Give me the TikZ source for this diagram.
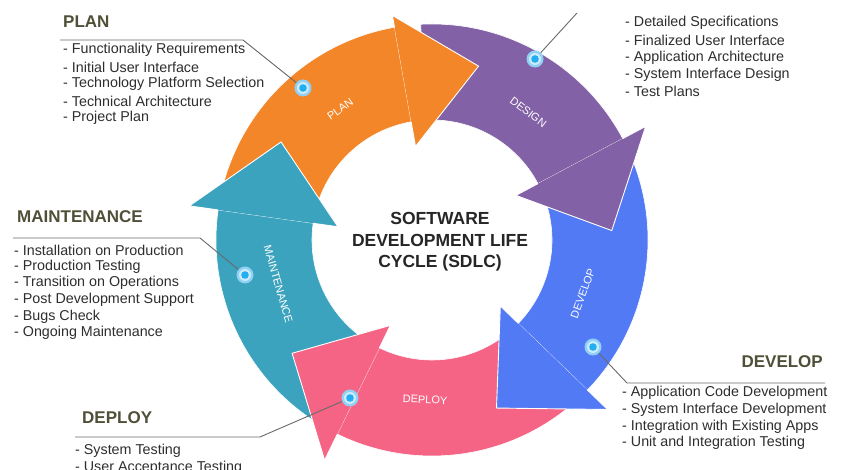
\documentclass[tikz,border=0pt]{standalone}
\usepackage{fontspec}
\setmainfont{Liberation Sans}
\usetikzlibrary{calc}
\definecolor{cOrange}{HTML}{F4862A}
\definecolor{cPurple}{HTML}{8361A6}
\definecolor{cBlue}{HTML}{527AF5}
\definecolor{cPink}{HTML}{F56484}
\definecolor{cTeal}{HTML}{3CA3BE}
\definecolor{listgray}{HTML}{2E2E2E}
\definecolor{headcol}{HTML}{505038}
\definecolor{leadcol}{HTML}{6A6A6A}
\definecolor{mkOuter}{HTML}{8FD0F5}
\definecolor{mkRing}{HTML}{CDEBFB}
\definecolor{mkDot}{HTML}{22AEF0}
\tikzset{
  listtext/.style={anchor=west, text=listgray, font=\fontsize{14.3}{16}\selectfont, inner sep=0pt},
  headtext/.style={anchor=west, text=headcol, font=\bfseries\fontsize{17}{19}\selectfont, inner sep=0pt},
  armlabel/.style={text=white, font=\fontsize{11}{12}\selectfont, inner sep=0pt},
  centertext/.style={align=center, text=black!85, font=\bfseries\fontsize{17.5}{21.5}\selectfont, inner sep=0pt},
  leader/.style={draw=leadcol, line width=0.9pt},
  marker/.style={circle, inner sep=0pt, minimum size=17pt, fill=mkOuter,
    path picture={\fill[mkRing] (path picture bounding box.center) circle (6);
                  \fill[mkDot] (path picture bounding box.center) circle (3.8);}},
}
\begin{document}
\begin{tikzpicture}[x=1pt,y=1pt]
\useasboundingbox (0,0) rectangle (841,470);
\fill[white] (0,0) rectangle (841,470);

% ring of arrows
\begin{scope}[shift={(432,230)}]
  \foreach \c/\t/\o in {cOrange/75/228, cPurple/3/242, cBlue/-69/244, cPink/-141/245, cTeal/-213/245} {
    \pgfmathsetmacro\B{\t+25}
    \pgfmathsetmacro\E{\t+90}
    \path[fill=\c, draw=white, line width=0.6pt]
      (\E:216) arc[start angle=\E, end angle=\B, radius=216]
      -- (\B:120) arc[start angle=\B, end angle=\E, radius=120] -- cycle;
  }
  \foreach \c/\t/\o in {cOrange/75/228, cPurple/3/242, cBlue/-69/244, cPink/-141/245, cTeal/-213/245} {
    \pgfmathsetmacro\B{\t+25}
    \filldraw[fill=\c, draw=white, line width=0.9pt, line join=miter]
      (\B:120) -- (\B:95) -- (\t:180) -- (\B:\o) -- (\B:216);
  }
  \node[armlabel, rotate=35]  (lplan)  at (125:160) {PLAN};
  \node[armlabel, rotate=-37] (ldesign) at (53:160) {DESIGN};
  \node[armlabel, rotate=70]  (ldevelop) at (-19.5:160) {DEVELOP};
  \node[armlabel, rotate=-2.5] (ldeploy) at (-92.5:160) {DEPLOY};
  \node[armlabel, rotate=-74] (lmaint) at (-164:160) {MAINTENANCE};
\end{scope}

% centre title
\node[centertext] (title) at (440,228) {SOFTWARE\\DEVELOPMENT LIFE\\CYCLE (SDLC)};

% marker positions
\path (303,382) coordinate (pplan);
\path (535,411) coordinate (pdesign);
\path (593,123) coordinate (pdevelop);
\path (350,72)  coordinate (pdeploy);
\path (245,195) coordinate (pmaint);

% leader lines
\coordinate (planEnd) at (60,430);
\coordinate (planElbow) at (243,430);
\draw[leader] (planEnd) -- (planElbow) -- (pplan);
\coordinate (designEnd) at (577,457);
\draw[leader] (pdesign) -- (designEnd);
\coordinate (maintEnd) at (13,232);
\coordinate (maintElbow) at (200,232);
\draw[leader] (maintEnd) -- (maintElbow) -- (pmaint);
\coordinate (devEnd) at (825,87);
\coordinate (devElbow) at (627,87);
\draw[leader] (devEnd) -- (devElbow) -- (pdevelop);
\coordinate (depEnd) at (75,33);
\coordinate (depElbow) at (260,33);
\draw[leader] (depEnd) -- (depElbow) -- (pdeploy);

\node[marker] (mplan) at (pplan) {};
\node[marker] (mdesign) at (pdesign) {};
\node[marker] (mdevelop) at (pdevelop) {};
\node[marker] (mdeploy) at (pdeploy) {};
\node[marker] (mmaint) at (pmaint) {};

% headers
\node[headtext] (hplan) at (63,448) {PLAN};
\node[headtext] (hmaint) at (17,253) {MAINTENANCE};
\node[headtext, anchor=east] (hdev) at (823,108) {DEVELOP};
\node[headtext] (hdep) at (82,52) {DEPLOY};

% lists
\foreach \s [count=\i] in {- Functionality Requirements, - Initial User Interface, - Technology Platform Selection, - Technical Architecture, - Project Plan}
  \node[listtext] (plan\i) at (63,{420-(\i-1)*17}) {\s};
\foreach \s [count=\i] in {- Detailed Specifications, - Finalized User Interface, - Application Architecture, - System Interface Design, - Test Plans}
  \node[listtext] (design\i) at (625,{447-(\i-1)*17.2}) {\s};
\foreach \s [count=\i] in {- Installation on Production, - Production Testing, - Transition on Operations, - Post Development Support, - Bugs Check, - Ongoing Maintenance}
  \node[listtext] (maint\i) at (14,{220-(\i-1)*16.6}) {\s};
\foreach \s [count=\i] in {- Application Code Development, - System Interface Development, - Integration with Existing Apps, - Unit and Integration Testing}
  \node[listtext] (dev\i) at (622,{77-(\i-1)*16.7}) {\s};
\foreach \s [count=\i] in {- System Testing, - User Acceptance Testing}
  \node[listtext] (dep\i) at (75,{19-(\i-1)*16.5}) {\s};
\end{tikzpicture}
\end{document}
